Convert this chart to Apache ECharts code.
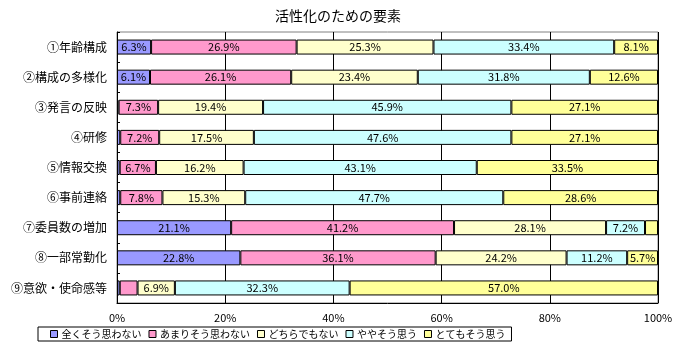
<!DOCTYPE html>
<html>
<head>
<meta charset="utf-8">
<script src="https://cdn.jsdelivr.net/npm/echarts@6/dist/echarts.min.js"></script>
<style>html,body{margin:0;padding:0;background:#fff;}#c{width:676px;height:350px;}</style>
</head>
<body>
<div id="c"></div>
<script>
var categories = ['①年齢構成','②構成の多様化','③発言の反映','④研修','⑤情報交換','⑥事前連絡','⑦委員数の増加','⑧一部常勤化','⑨意欲・使命感等'];
var seriesNames = ['全くそう思わない','あまりそう思わない','どちらでもない','ややそう思う','とてもそう思う'];
var s1 = [6.3, 6.1, 0.3, 0.6, 0.5, 0.6, 21.1, 22.8, 0.5];
var s2 = [26.9, 26.1, 7.3, 7.2, 6.7, 7.8, 41.2, 36.1, 3.3];
var s3 = [25.3, 23.4, 19.4, 17.5, 16.2, 15.3, 28.1, 24.2, 6.9];
var s4 = [33.4, 31.8, 45.9, 47.6, 43.1, 47.7, 7.2, 11.2, 32.3];
var s5 = [8.1, 12.6, 27.1, 27.1, 33.5, 28.6, 2.4, 5.7, 57.0];
var colors = ['#9999FF','#FF99CC','#FFFFCC','#CCFFFF','#FFFF99'];
var xTicks = [0, 20, 40, 60, 80, 100];

var FONT = '"Noto Sans CJK JP", sans-serif';
var data = [s1, s2, s3, s4, s5];
var chart = echarts.init(document.getElementById('c'));
chart.setOption({
  animation: false,
  textStyle: { fontFamily: FONT, color: '#000' },
  title: {
    text: '活性化のための要素', left: 'center', top: 4,
    textStyle: { fontFamily: FONT, fontSize: 14, fontWeight: 'normal', color: '#000' }
  },
  legend: {
    left: 38, top: 327,
    padding: [2, 6, 2, 12],
    borderColor: '#000', borderWidth: 1,
    itemWidth: 7, itemHeight: 7, itemGap: 7,
    icon: 'rect',
    itemStyle: { borderColor: '#000', borderWidth: 1 },
    textStyle: { fontFamily: FONT, fontSize: 10, color: '#000', padding: [0,0,0,-1] },
    data: seriesNames
  },
  grid: {
    left: 117, right: 18, top: 32, bottom: 47,
    show: true, borderColor: '#808080', borderWidth: 1, backgroundColor: '#fff'
  },
  xAxis: {
    type: 'value', min: xTicks[0], max: xTicks[xTicks.length-1], interval: 20,
    axisLine: { show: true, lineStyle: { color: '#000' } },
    axisTick: { show: false },
    axisLabel: { formatter: '{value}%', fontFamily: FONT, fontSize: 11, color: '#000', margin: 9 },
    splitLine: { show: true, lineStyle: { color: '#000', width: 1 } }
  },
  yAxis: {
    type: 'category', data: categories, inverse: true,
    axisLine: { show: true, lineStyle: { color: '#000' } },
    axisTick: { show: true, inside: true, length: 3, lineStyle: { color: '#000' } },
    axisLabel: { fontFamily: FONT, fontSize: 12, color: '#000', margin: 10 },
    splitLine: { show: false }
  },
  series: data.map(function (d, i) {
    return {
      name: seriesNames[i], type: 'bar', stack: 'total', data: d,
      barWidth: 15,
      itemStyle: { color: colors[i], borderColor: '#000', borderWidth: 1 },
      label: {
        show: true, position: 'inside', fontFamily: FONT, fontSize: 11, color: '#000',
        formatter: function (p) { return p.value >= 5 ? p.value.toFixed(1) + '%' : ''; }
      }
    };
  })
});
</script>
</body>
</html>
